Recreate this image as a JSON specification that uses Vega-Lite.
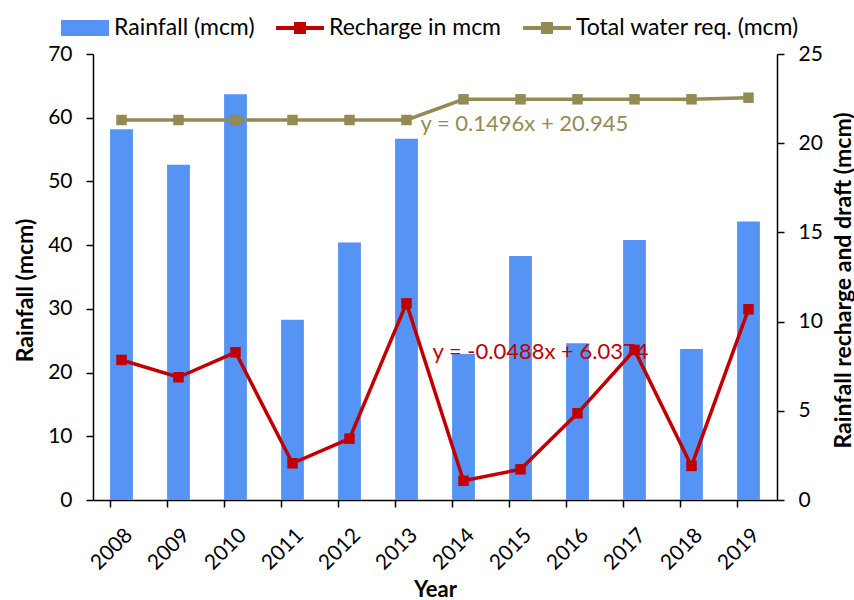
{
  "$schema": "https://vega.github.io/schema/vega-lite/v6.json",
  "width": 684,
  "height": 446,
  "autosize": "none",
  "padding": {"left": 93, "top": 54, "right": 77, "bottom": 100},
  "background": "white",
  "config": {
    "font": "Lato",
    "view": {"stroke": null},
    "axis": {"grid": false, "domainColor": "black", "tickColor": "black", "labelColor": "black", "titleColor": "black", "labelFontSize": 21, "titleFontSize": 23, "titleFontWeight": "bold", "domainWidth": 1.5, "tickWidth": 1.5, "tickSize": 7}
  },
  "datasets": {
    "main": [
      {"year": "2008", "rainfall": 58.2, "recharge": 7.85, "total": 21.3},
      {"year": "2009", "rainfall": 52.6, "recharge": 6.88, "total": 21.3},
      {"year": "2010", "rainfall": 63.7, "recharge": 8.28, "total": 21.3},
      {"year": "2011", "rainfall": 28.3, "recharge": 2.06, "total": 21.3},
      {"year": "2012", "rainfall": 40.4, "recharge": 3.44, "total": 21.3},
      {"year": "2013", "rainfall": 56.7, "recharge": 11.02, "total": 21.3},
      {"year": "2014", "rainfall": 22.9, "recharge": 1.08, "total": 22.46},
      {"year": "2015", "rainfall": 38.3, "recharge": 1.72, "total": 22.46},
      {"year": "2016", "rainfall": 24.6, "recharge": 4.86, "total": 22.46},
      {"year": "2017", "rainfall": 40.8, "recharge": 8.41, "total": 22.46},
      {"year": "2018", "rainfall": 23.7, "recharge": 1.91, "total": 22.46},
      {"year": "2019", "rainfall": 43.7, "recharge": 10.69, "total": 22.55}
    ],
    "eqs": [
      {"year": "2013", "value": 21.1, "label": "y = 0.1496x + 20.945", "series": "total"},
      {"year": "2014", "value": 8.3, "label": "y = -0.0488x + 6.0374", "series": "recharge"}
    ]
  },
  "data": {"name": "main"},
  "encoding": {
    "x": {
      "field": "year", "type": "ordinal", "title": "Year",
      "scale": {"type": "band", "paddingInner": 0.6, "paddingOuter": 0.3},
      "axis": {"labelAngle": -45, "bandPosition": 0, "labelAlign": "right", "labelBaseline": "top", "labelPadding": 17, "labelDx": -5, "labelFontSize": 21, "titleFontSize": 22, "titleY": 89, "titleBaseline": "middle"}
    }
  },
  "layer": [
    {
      "mark": {"type": "bar"},
      "encoding": {
        "y": {"field": "rainfall", "type": "quantitative", "title": "Rainfall (mcm)",
              "scale": {"domain": [0, 70]},
              "axis": {"orient": "left", "values": [0, 10, 20, 30, 40, 50, 60, 70], "labelPadding": 14, "titleAngle": -90, "titleX": -68, "titleY": 236, "titleAlign": "center", "titleBaseline": "middle"}},
        "color": {"datum": "Rainfall (mcm)", "type": "nominal",
          "scale": {"domain": ["Rainfall (mcm)", "Recharge in mcm", "Total water req. (mcm)"], "range": ["#5593F5", "#C00000", "#948A54"]},
          "legend": {
            "orient": "none", "legendX": -32, "legendY": -50, "direction": "horizontal", "title": null,
            "labelFontSize": 23, "labelColor": "black", "labelLimit": 400, "columnPadding": 21, "labelOffset": 5, "symbolSize": 2304,
            "symbolStrokeWidth": 0,
            "encode": {"symbols": {"update": {
              "fill": {"scale": "color", "field": "value"},
              "stroke": {"value": "transparent"},
              "opacity": {"value": 1},
              "shape": {"signal": "datum.value === 'Rainfall (mcm)' ? 'M-1,-0.33H1V0.33H-1Z' : 'M-1,-0.08H-0.25V-0.25H0.25V-0.08H1V0.08H0.25V0.25H-0.25V0.08H-1Z'"}
            }}}
          }
        }
      }
    },
    {
      "layer": [
        {
          "mark": {"type": "line", "strokeWidth": 3.5, "point": {"shape": "square", "size": 110, "filled": true, "opacity": 1}},
          "encoding": {
            "y": {"field": "recharge", "type": "quantitative"},
            "color": {"datum": "Recharge in mcm", "type": "nominal"}
          }
        },
        {
          "mark": {"type": "line", "strokeWidth": 3.5, "point": {"shape": "square", "size": 110, "filled": true, "opacity": 1}},
          "encoding": {
            "y": {"field": "total", "type": "quantitative"},
            "color": {"datum": "Total water req. (mcm)", "type": "nominal"}
          }
        },
        {
          "data": {"name": "eqs"},
          "transform": [{"filter": "datum.series === 'total'"}],
          "mark": {"type": "text", "align": "left", "baseline": "middle", "dx": 14, "fontSize": 22, "color": "#948A54"},
          "encoding": {"y": {"field": "value", "type": "quantitative"}, "text": {"field": "label"}}
        },
        {
          "data": {"name": "eqs"},
          "transform": [{"filter": "datum.series === 'recharge'"}],
          "mark": {"type": "text", "align": "left", "baseline": "middle", "dx": -31, "fontSize": 22, "color": "#C00000"},
          "encoding": {"y": {"field": "value", "type": "quantitative"}, "text": {"field": "label"}}
        }
      ],
      "encoding": {
        "y": {"type": "quantitative", "title": "Rainfall recharge and draft (mcm)",
              "scale": {"domain": [0, 25]},
              "axis": {"orient": "right", "values": [0, 5, 10, 15, 20, 25], "labelPadding": 14, "titleAngle": -90, "titleX": 66, "titleY": 226, "titleAlign": "center", "titleBaseline": "middle"}}
      }
    }
  ],
  "resolve": {"scale": {"y": "independent"}, "axis": {"y": "independent"}}
}
